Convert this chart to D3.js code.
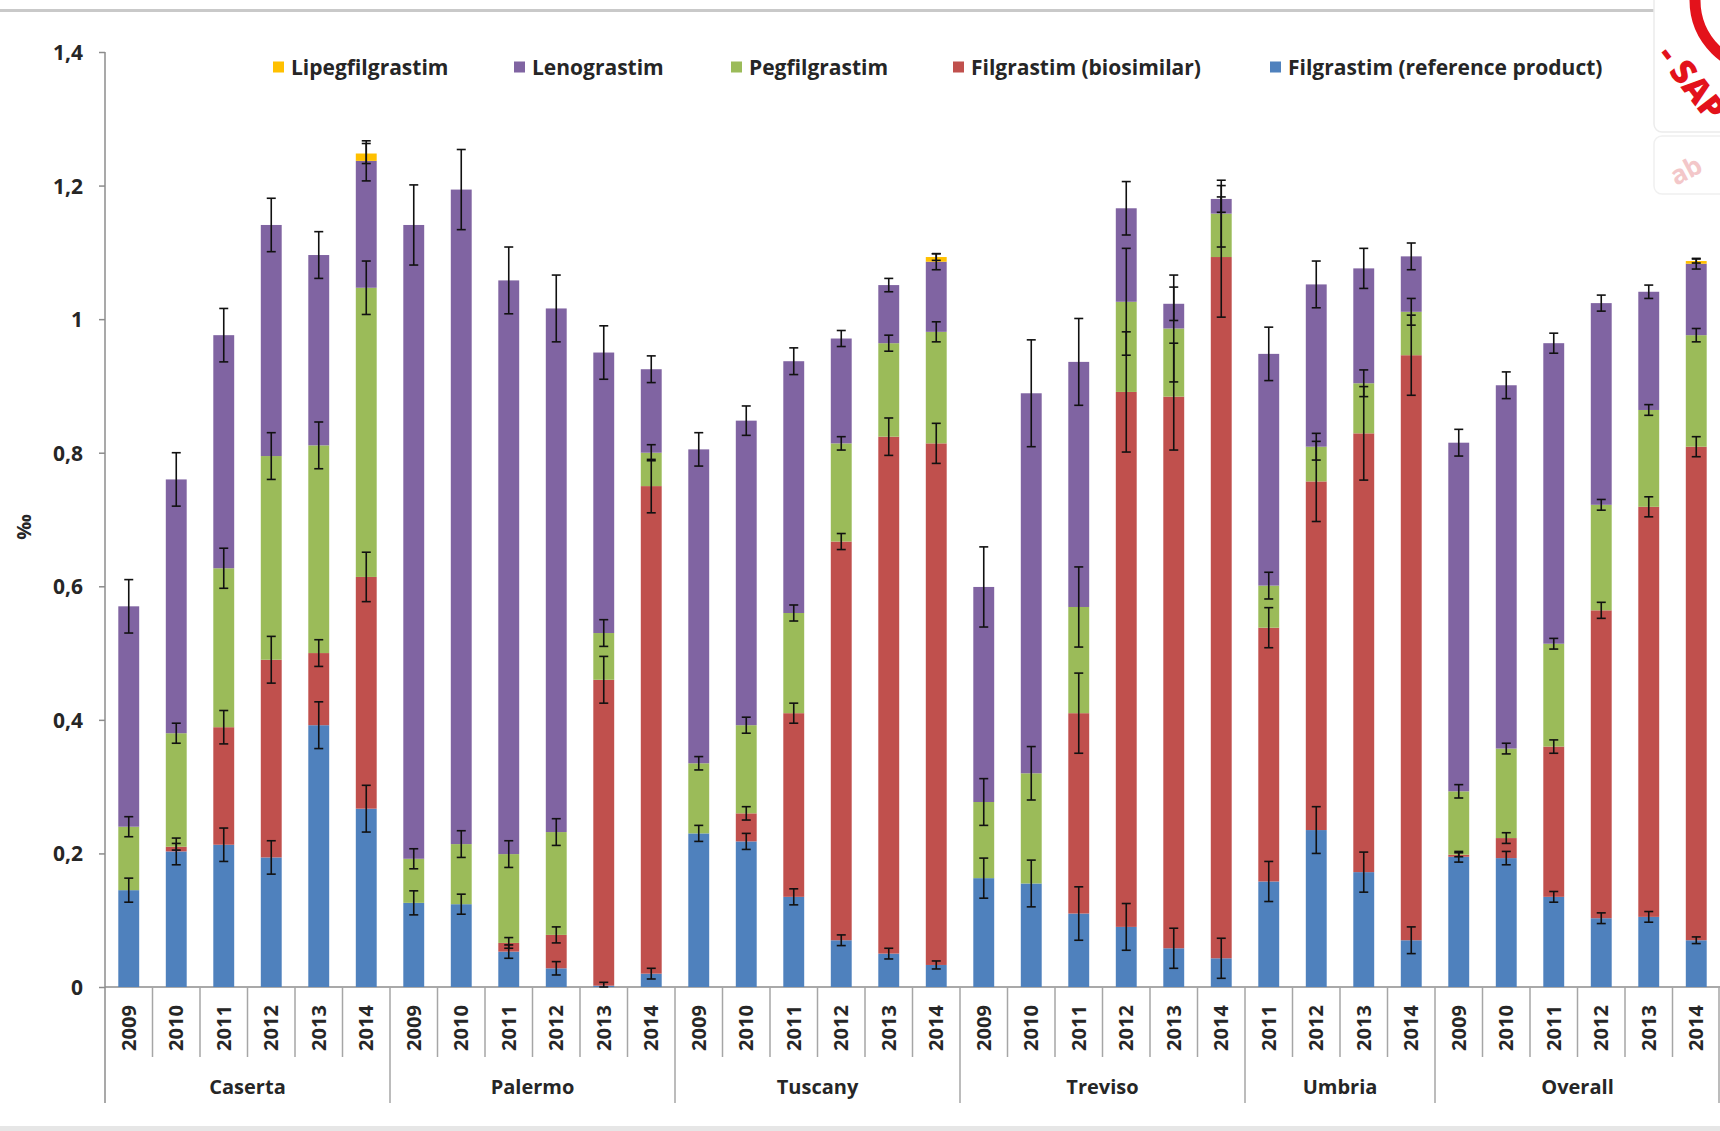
<!DOCTYPE html>
<html>
<head>
<meta charset="utf-8">
<script src="https://cdn.jsdelivr.net/npm/d3@7"></script>
<style>
  html, body { margin: 0; padding: 0; background: #ffffff; }
  svg { display: block; }
  text { font-family: "Open Sans", Lato, sans-serif; font-weight: 700; fill: #262626; }
</style>
</head>
<body>
<svg id="chart" width="1720" height="1131"></svg>
<script>
// Consumption of G-CSF products (‰) by area and year, stacked per product
const groups = ["Caserta", "Palermo", "Tuscany", "Treviso", "Umbria", "Overall"];
const groupYears = [
  ["2009", "2010", "2011", "2012", "2013", "2014"],
  ["2009", "2010", "2011", "2012", "2013", "2014"],
  ["2009", "2010", "2011", "2012", "2013", "2014"],
  ["2009", "2010", "2011", "2012", "2013", "2014"],
  ["2011", "2012", "2013", "2014"],
  ["2009", "2010", "2011", "2012", "2013", "2014"]
];

// Stack order, bottom to top
const seriesNames = [
  "Filgrastim (reference product)",
  "Filgrastim (biosimilar)",
  "Pegfilgrastim",
  "Lenograstim",
  "Lipegfilgrastim"
];
// Legend reads in the opposite order
const legendOrder = [
  "Lipegfilgrastim",
  "Lenograstim",
  "Pegfilgrastim",
  "Filgrastim (biosimilar)",
  "Filgrastim (reference product)"
];

const filgrastimRef = [
  0.145, 0.203, 0.213, 0.194, 0.392, 0.267,
  0.126, 0.124, 0.053, 0.028, 0.002, 0.020,
  0.230, 0.218, 0.135, 0.070, 0.050, 0.033,
  0.163, 0.155, 0.110, 0.090, 0.058, 0.043,
  0.158, 0.235, 0.172, 0.070,
  0.195, 0.193, 0.135, 0.103, 0.105, 0.070
];
const filgrastimBio = [
  0.000, 0.007, 0.176, 0.296, 0.108, 0.347,
  0.000, 0.000, 0.013, 0.050, 0.458, 0.730,
  0.000, 0.042, 0.275, 0.597, 0.774, 0.781,
  0.000, 0.000, 0.300, 0.801, 0.826, 1.050,
  0.380, 0.522, 0.657, 0.876,
  0.003, 0.030, 0.225, 0.461, 0.614, 0.739
];
const pegfilgrastim = [
  0.095, 0.170, 0.238, 0.305, 0.311, 0.433,
  0.066, 0.090, 0.133, 0.154, 0.070, 0.050,
  0.105, 0.132, 0.150, 0.147, 0.140, 0.167,
  0.114, 0.165, 0.159, 0.135, 0.102, 0.065,
  0.063, 0.052, 0.075, 0.065,
  0.095, 0.134, 0.154, 0.158, 0.145, 0.167
];
const lenograstim = [
  0.330, 0.380, 0.349, 0.346, 0.285, 0.190,
  0.949, 0.980, 0.859, 0.784, 0.420, 0.125,
  0.470, 0.456, 0.377, 0.157, 0.087, 0.105,
  0.322, 0.569, 0.367, 0.140, 0.037, 0.022,
  0.347, 0.243, 0.172, 0.083,
  0.522, 0.544, 0.450, 0.302, 0.177, 0.107
];
const lipegfilgrastim = [
  0, 0, 0, 0, 0, 0.011,
  0, 0, 0, 0, 0, 0,
  0, 0, 0, 0, 0, 0.007,
  0, 0, 0, 0, 0, 0,
  0, 0, 0, 0,
  0, 0, 0, 0, 0, 0.004
];

// Half-width of the error bar drawn at the top of each segment
const errRef = [
  0.018, 0.020, 0.025, 0.025, 0.035, 0.035,
  0.018, 0.015, 0.010, 0.010, 0.005, 0.008,
  0.012, 0.012, 0.012, 0.008, 0.008, 0.006,
  0.030, 0.035, 0.040, 0.035, 0.030, 0.030,
  0.030, 0.035, 0.030, 0.020,
  0.008, 0.010, 0.008, 0.008, 0.008, 0.005
];
const errBio = [
  0.000, 0.005, 0.025, 0.035, 0.020, 0.037,
  0.000, 0.000, 0.008, 0.012, 0.035, 0.040,
  0.000, 0.010, 0.015, 0.012, 0.028, 0.030,
  0.000, 0.000, 0.060, 0.090, 0.080, 0.090,
  0.030, 0.060, 0.070, 0.060,
  0.003, 0.008, 0.010, 0.012, 0.015, 0.015
];
const errPeg = [
  0.015, 0.015, 0.030, 0.035, 0.035, 0.040,
  0.015, 0.020, 0.020, 0.020, 0.020, 0.012,
  0.010, 0.012, 0.012, 0.010, 0.012, 0.015,
  0.035, 0.040, 0.060, 0.080, 0.080, 0.050,
  0.020, 0.020, 0.020, 0.020,
  0.010, 0.008, 0.008, 0.008, 0.008, 0.010
];
const errLeno = [
  0.040, 0.040, 0.040, 0.040, 0.035, 0.030,
  0.060, 0.060, 0.050, 0.050, 0.040, 0.020,
  0.025, 0.022, 0.020, 0.012, 0.010, 0.012,
  0.060, 0.080, 0.065, 0.040, 0.025, 0.020,
  0.040, 0.035, 0.030, 0.020,
  0.020, 0.020, 0.015, 0.012, 0.010, 0.008
];
const errLipeg = [
  0, 0, 0, 0, 0, 0.015,
  0, 0, 0, 0, 0, 0,
  0, 0, 0, 0, 0, 0.005,
  0, 0, 0, 0, 0, 0,
  0, 0, 0, 0,
  0, 0, 0, 0, 0, 0.003
];

const yTicks = [0, 0.2, 0.4, 0.6, 0.8, 1.0, 1.2, 1.4];
const yLabel = "‰";

const colors = {
  "Filgrastim (reference product)": "#4f81bd",
  "Filgrastim (biosimilar)": "#c0504d",
  "Pegfilgrastim": "#9bbb59",
  "Lenograstim": "#8064a2",
  "Lipegfilgrastim": "#ffc000"
};

const valueArrays = [filgrastimRef, filgrastimBio, pegfilgrastim, lenograstim, lipegfilgrastim];
const errArrays = [errRef, errBio, errPeg, errLeno, errLipeg];

// One row per bar
const rows = [];
groups.forEach((g, gi) => {
  groupYears[gi].forEach(y => rows.push({ id: g + "-" + y, group: g, year: y }));
});
rows.forEach((r, i) => {
  seriesNames.forEach((s, si) => { r[s] = valueArrays[si][i]; r["err:" + s] = errArrays[si][i]; });
});

const svg = d3.select("#chart");
const plot = { left: 105, right: 1720, top: 52, bottom: 987 };

const x = d3.scaleBand()
  .domain(rows.map(r => r.id))
  .range([plot.left, plot.right])
  .paddingInner(0.56)
  .paddingOuter(0.28);
const step = x.step();

const y = d3.scaleLinear().domain([0, 1.4]).range([plot.bottom, plot.top]);

const locale = d3.formatLocale({ decimal: ",", thousands: ".", grouping: [3], currency: ["", " €"] });
const fmt = locale.format("~g");

// Page frame: top rule and bottom band
svg.append("rect").attr("x", 0).attr("y", 9).attr("width", 1654).attr("height", 3).attr("fill", "#c9c9c9");
svg.append("rect").attr("x", 0).attr("y", 1126).attr("width", 1720).attr("height", 5).attr("fill", "#e6e6e6");

// Y axis
const yAxis = d3.axisLeft(y).tickValues(yTicks).tickFormat(fmt).tickSize(6).tickPadding(16);
const yg = svg.append("g").attr("transform", `translate(${plot.left},0)`).call(yAxis);
yg.select(".domain").remove();
yg.selectAll(".tick line").attr("stroke", "#8c8c8c").attr("stroke-width", 1.5);
yg.selectAll(".tick text").style("font-size", "21px").attr("fill", "#262626").attr("dy", "0.36em");
svg.append("line")
  .attr("x1", plot.left).attr("x2", plot.left)
  .attr("y1", plot.top).attr("y2", 1103)
  .attr("stroke", "#8c8c8c").attr("stroke-width", 1.5);

svg.append("text")
  .attr("transform", `translate(31,527) rotate(-90)`)
  .attr("text-anchor", "middle")
  .style("font-size", "20px")
  .text(yLabel);

// X axis baseline
svg.append("line")
  .attr("x1", plot.left).attr("x2", plot.right)
  .attr("y1", plot.bottom).attr("y2", plot.bottom)
  .attr("stroke", "#8c8c8c").attr("stroke-width", 1.5);

// Year separators and group separators
const xg = svg.append("g");
rows.forEach((r, i) => {
  const bx = x(r.id) - step * x.paddingOuter();
  const isGroupStart = i === 0 || rows[i - 1].group !== r.group;
  if (i > 0) {
    xg.append("line")
      .attr("x1", bx).attr("x2", bx)
      .attr("y1", plot.bottom).attr("y2", isGroupStart ? 1103 : 1057)
      .attr("stroke", "#a6a6a6").attr("stroke-width", 1.5);
  }
});
xg.append("line")
  .attr("x1", plot.right - 1).attr("x2", plot.right - 1)
  .attr("y1", plot.bottom).attr("y2", 1103)
  .attr("stroke", "#a6a6a6").attr("stroke-width", 1.5);

// Year labels
xg.selectAll("text.year")
  .data(rows)
  .join("text")
  .attr("class", "year")
  .attr("transform", d => `translate(${x(d.id) + x.bandwidth() / 2},1028) rotate(-90)`)
  .attr("text-anchor", "middle")
  .attr("dy", "0.36em")
  .style("font-size", "20px")
  .text(d => d.year);

// Group labels
groups.forEach(g => {
  const ids = rows.filter(r => r.group === g).map(r => r.id);
  const x0 = x(ids[0]) - step * x.paddingOuter();
  const x1 = x(ids[ids.length - 1]) - step * x.paddingOuter() + step;
  xg.append("text")
    .attr("x", (x0 + x1) / 2)
    .attr("y", 1087)
    .attr("text-anchor", "middle")
    .attr("dy", "0.35em")
    .style("font-size", "20px")
    .text(g);
});

// Stacked bars
const stack = d3.stack().keys(seriesNames);
const stacked = stack(rows);

const barG = svg.append("g");
stacked.forEach(layer => {
  barG.append("g")
    .attr("fill", colors[layer.key])
    .selectAll("rect")
    .data(layer.filter(d => d[1] - d[0] > 0))
    .join("rect")
    .attr("x", d => x(d.data.id))
    .attr("width", x.bandwidth())
    .attr("y", d => y(d[1]))
    .attr("height", d => y(d[0]) - y(d[1]));
});

// Error bars at the top of each segment
const errG = svg.append("g").attr("stroke", "#111").attr("stroke-width", 1.6).attr("fill", "none");
const cap = 4.5;
stacked.forEach(layer => {
  layer.forEach(d => {
    const v = d[1] - d[0];
    const e = d.data["err:" + layer.key];
    if (v <= 0 || e <= 0) return;
    const cx = x(d.data.id) + x.bandwidth() / 2;
    const yHi = y(d[1] + e), yLo = y(Math.max(0, d[1] - e));
    errG.append("line").attr("x1", cx).attr("x2", cx).attr("y1", yHi).attr("y2", yLo);
    errG.append("line").attr("x1", cx - cap).attr("x2", cx + cap).attr("y1", yHi).attr("y2", yHi);
    errG.append("line").attr("x1", cx - cap).attr("x2", cx + cap).attr("y1", yLo).attr("y2", yLo);
  });
});

// Legend
const legendX = [273, 514, 731, 953, 1270];
const legend = svg.append("g");
legendOrder.forEach((name, i) => {
  const lg = legend.append("g").attr("transform", `translate(${legendX[i]},67)`);
  lg.append("rect").attr("x", 0).attr("y", -5.5).attr("width", 11).attr("height", 11).attr("fill", colors[name]);
  lg.append("text").attr("x", 18).attr("dy", "0.36em").style("font-size", "21px").text(name);
});

// Stamp in the top-right corner
const stamp = svg.append("g");
const clip = svg.append("defs").append("clipPath").attr("id", "stampClip");
clip.append("rect").attr("x", 1654).attr("y", 0).attr("width", 70).attr("height", 132).attr("rx", 8);
stamp.append("rect").attr("x", 1654).attr("y", -8).attr("width", 80).attr("height", 140).attr("rx", 8)
  .attr("fill", "#ffffff").attr("stroke", "#ececec").attr("stroke-width", 1.5);
const st = stamp.append("g").attr("clip-path", "url(#stampClip)");
st.append("circle").attr("cx", 1765).attr("cy", 0).attr("r", 70)
  .attr("fill", "none").attr("stroke", "#e3121b").attr("stroke-width", 11);
st.append("text")
  .attr("transform", "translate(1656,56) rotate(52)")
  .style("font-size", "34px").style("font-weight", 800)
  .style("fill", "#e3121b")
  .text("- SAP");
stamp.append("rect").attr("x", 1654).attr("y", 136).attr("width", 80).attr("height", 58).attr("rx", 8)
  .attr("fill", "#ffffff").attr("stroke", "#f0f0f0").attr("stroke-width", 1.5);
stamp.append("text")
  .attr("transform", "translate(1676,186) rotate(-28)")
  .style("font-size", "26px")
  .style("fill", "#f3c7c9")
  .text("ab");
</script>
</body>
</html>
